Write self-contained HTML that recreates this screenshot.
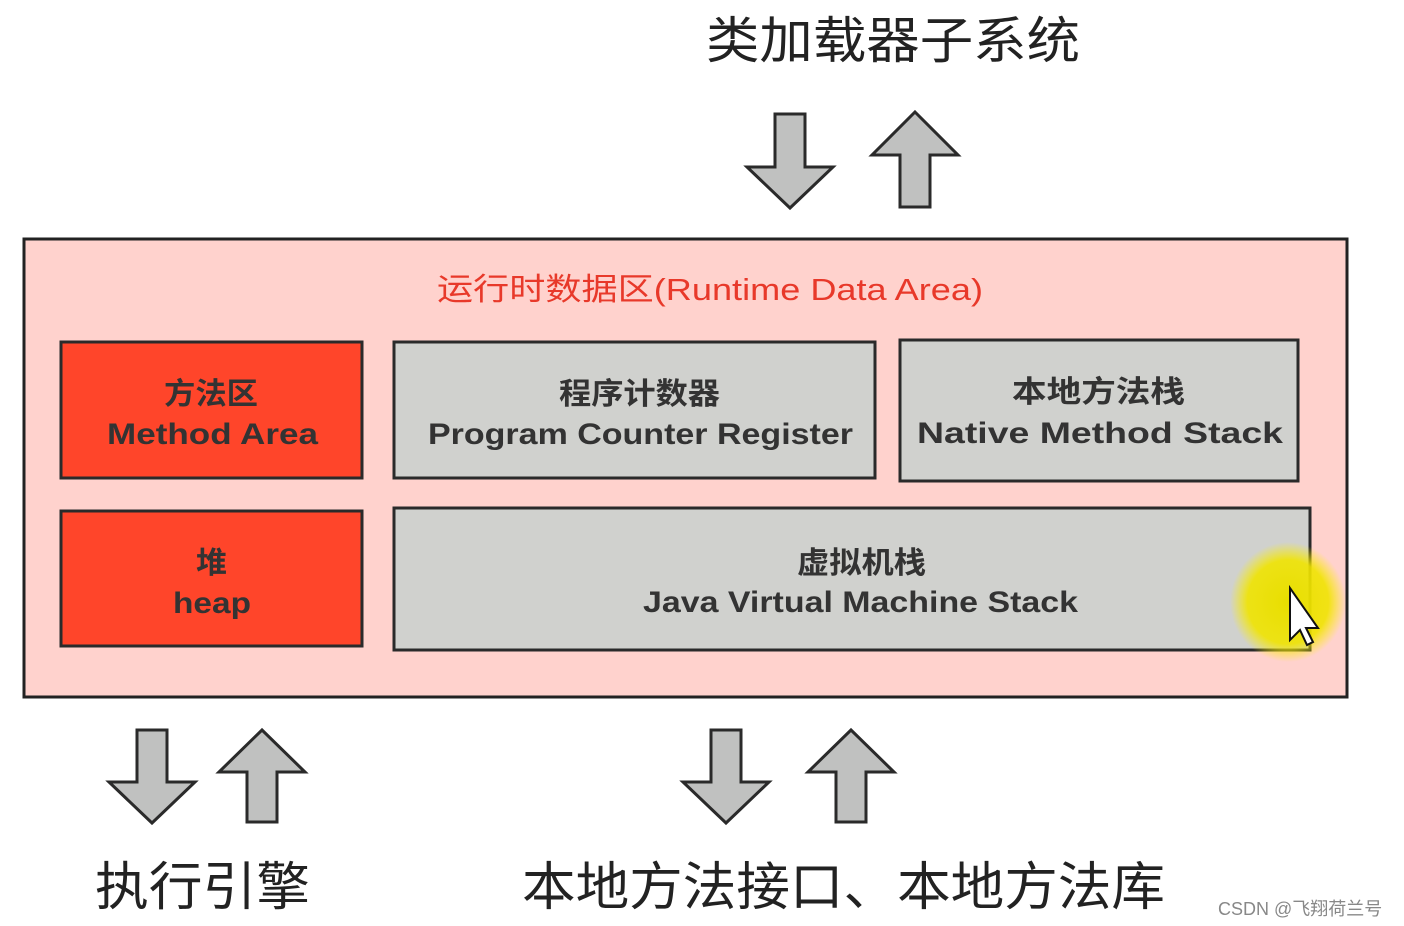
<!DOCTYPE html>
<html><head><meta charset="utf-8"><style>
html,body{margin:0;padding:0;background:#fff;}
svg{display:block;}
</style></head><body>
<svg width="1404" height="926" viewBox="0 0 1404 926" xmlns="http://www.w3.org/2000/svg" font-family="'Liberation Sans','Noto Sans CJK SC',sans-serif">
<defs>
<radialGradient id="yg" cx="50%" cy="50%" r="50%">
<stop offset="0%" stop-color="#e8de00"/><stop offset="70%" stop-color="#f0e400" stop-opacity="0.9"/><stop offset="100%" stop-color="#fff200" stop-opacity="0"/>
</radialGradient>
</defs>
<text x="706" y="58" font-size="50" fill="#222" textLength="374" lengthAdjust="spacingAndGlyphs">类加载器子系统</text>
<g fill="#c0c1c0" stroke="#2a2a2a" stroke-width="3" stroke-linejoin="miter">
<polygon points="775,114 805,114 805,167 833,167 790,208 747,167 775,167"/>
<polygon points="915,112 958,155 930,155 930,207 900,207 900,155 872,155"/>
<polygon points="137,730 167,730 167,782 195,782 152,823 109,782 137,782"/>
<polygon points="262,730 305,772 277,772 277,822 247,822 247,772 219,772"/>
<polygon points="711,730 741,730 741,782 769,782 726,823 683,782 711,782"/>
<polygon points="851,730 894,772 866,772 866,822 836,822 836,772 808,772"/>
</g>
<rect x="24" y="239" width="1323" height="458" fill="#ffd2cd" stroke="#222" stroke-width="3"/>
<text x="437" y="300" font-size="31" fill="#e8392a" textLength="546" lengthAdjust="spacingAndGlyphs">运行时数据区(Runtime Data Area)</text>
<g stroke="#2a2a2a" stroke-width="3">
<rect x="61" y="342" width="301" height="136" fill="#ff452a"/>
<rect x="394" y="342" width="481" height="136" fill="#d0d1ce"/>
<rect x="900" y="340" width="398" height="141" fill="#d0d1ce"/>
<rect x="61" y="511" width="301" height="135" fill="#ff452a"/>
<rect x="394" y="508" width="916" height="142" fill="#d0d1ce"/>
</g>
<g font-size="30" font-weight="bold" fill="#333" lengthAdjust="spacingAndGlyphs">
<text x="164" y="404" textLength="94" lengthAdjust="spacingAndGlyphs">方法区</text>
<text x="107" y="444" textLength="211" lengthAdjust="spacingAndGlyphs">Method Area</text>
<text x="559" y="404" textLength="161" lengthAdjust="spacingAndGlyphs">程序计数器</text>
<text x="428" y="444" textLength="425" lengthAdjust="spacingAndGlyphs">Program Counter Register</text>
<text x="1012" y="402" textLength="173" lengthAdjust="spacingAndGlyphs">本地方法栈</text>
<text x="917" y="443" textLength="366" lengthAdjust="spacingAndGlyphs">Native Method Stack</text>
<text x="196" y="573" textLength="31" lengthAdjust="spacingAndGlyphs">堆</text>
<text x="173" y="613" textLength="78" lengthAdjust="spacingAndGlyphs">heap</text>
<text x="797" y="573" textLength="129" lengthAdjust="spacingAndGlyphs">虚拟机栈</text>
<text x="643" y="612" textLength="435" lengthAdjust="spacingAndGlyphs">Java Virtual Machine Stack</text>
</g>
<ellipse cx="1288" cy="602" rx="58" ry="60" fill="url(#yg)"/>
<polygon points="1290,588 1290,640 1300,630 1307,645 1313,642 1306,628 1318,628" fill="#fff" stroke="#111" stroke-width="2"/>
<text x="95" y="905" font-size="52" fill="#222" textLength="215" lengthAdjust="spacingAndGlyphs">执行引擎</text>
<text x="522" y="905" font-size="52" fill="#222" textLength="643" lengthAdjust="spacingAndGlyphs">本地方法接口、本地方法库</text>
<text x="1218" y="915" font-size="18" fill="#888">CSDN @飞翔荷兰号</text>
</svg>
</body></html>
